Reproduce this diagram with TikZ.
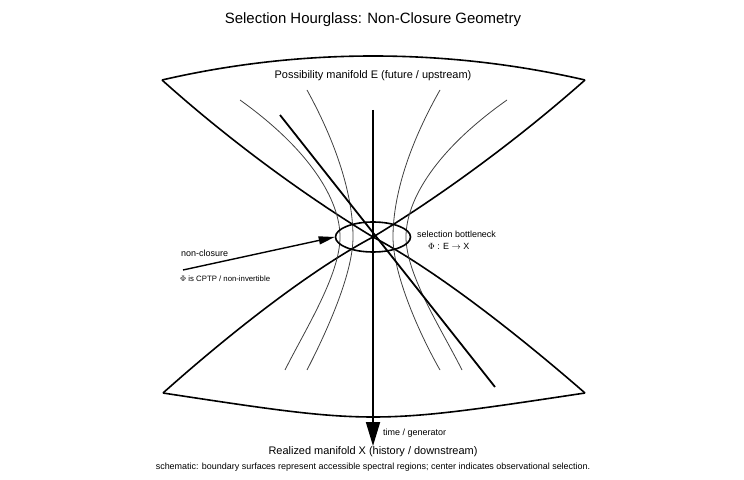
\documentclass[tikz,border=0pt]{standalone}
\usepackage{fontspec}
\setmainfont{Liberation Sans}
\usetikzlibrary{arrows.meta,shapes.geometric}
\begin{document}
\begin{tikzpicture}[x=1bp,y=-1bp,
  bnd/.style={line width=1.6bp,black},
  flow/.style={line width=0.8bp,black!75},
  thick/.style={line width=1.8bp,black},
  lbl/.style={inner sep=0pt,font=\fontsize{11}{13}\selectfont},
  sml/.style={inner sep=0pt,font=\fontsize{9}{11}\selectfont},
  tiny/.style={inner sep=0pt,font=\fontsize{7.8}{9}\selectfont}]
\useasboundingbox (0,0) rectangle (744,480);
\coordinate (c) at (373,237);
\coordinate (tl) at (162,80);
\coordinate (tr) at (585,80);
\coordinate (bl) at (163,393);
\coordinate (br) at (585,393);
% boundaries
\draw[bnd] (tl) .. controls (300,48) and (446,48) .. (tr);
\draw[bnd] (tl) .. controls (240,150) and (320,205) .. (c);
\draw[bnd] (tr) .. controls (506,150) and (426,205) .. (c);
\draw[bnd] (bl) .. controls (373,425) and (373,425) .. (br);
\draw[bnd] (bl) .. controls (245,320) and (320,265) .. (c);
\draw[bnd] (br) .. controls (501,320) and (426,265) .. (c);
% flow lines
\draw[flow] (240,100) .. controls (310,150) and (340,200) .. (340,237) .. controls (340,275) and (305,330) .. (285,370);
\draw[flow] (307,90) .. controls (340,150) and (353,200) .. (353,237) .. controls (353,275) and (325,335) .. (307,370);
\draw[flow] (440,90) .. controls (406,150) and (393,200) .. (393,237) .. controls (393,275) and (420,335) .. (440,370);
\draw[flow] (507,100) .. controls (436,150) and (406,200) .. (406,237) .. controls (406,275) and (442,330) .. (462,370);
% thick diagonal
\coordinate (d1) at (280,115);
\coordinate (d2) at (495,387);
\draw[thick] (d1) -- (d2);
% ellipse
\node[draw,line width=1.6bp,ellipse,minimum width=75bp,minimum height=30bp,inner sep=0pt] (ell) at (c) {};
\fill (c) circle (2bp);
% time arrow
\coordinate (t0) at (373,110);
\coordinate (t1) at (373,446);
\draw[thick,-{Triangle[length=24bp,width=14bp]}] (t0) -- (t1);
% non-closure arrow
\coordinate (n0) at (183,270);
\draw[line width=1.4bp,-{Triangle[length=16bp,width=8bp]}] (n0) -- (ell.west);
% labels
\node[font=\fontsize{15}{18}\selectfont,inner sep=0pt] (title) at (373,20) {Selection Hourglass: Non-Closure Geometry};
\node[lbl] (E) at (373,76) {Possibility manifold E (future / upstream)};
\node[lbl] (X) at (373,452) {Realized manifold X (history / downstream)};
\node[sml] (cap) at (373,467) {schematic: boundary surfaces represent accessible spectral regions; center indicates observational selection.};
\node[sml,anchor=west] (tg) at (383,433) {time / generator};
\node[sml,anchor=west] (sb) at (417,234) {selection bottleneck};
\node[sml,anchor=west] (phi) at (428,246) {$\Phi$ : E $\rightarrow$ X};
\node[sml,anchor=west] (nc) at (181,253) {non-closure};
\node[tiny,anchor=west] (cptp) at (180,279) {$\Phi$ is CPTP / non-invertible};
\end{tikzpicture}
\end{document}
